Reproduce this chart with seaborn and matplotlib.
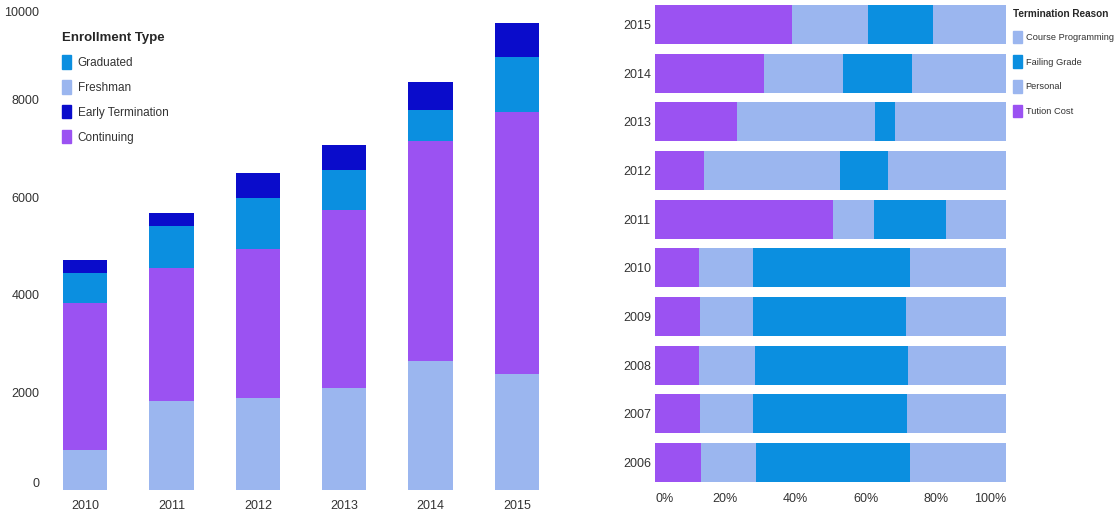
import matplotlib
matplotlib.use("Agg")
import matplotlib.pyplot as plt
import matplotlib.transforms as mtransforms
from matplotlib.patches import Patch
from matplotlib.ticker import FuncFormatter
import pandas as pd
import seaborn as sns

# Enrollment by year (stacked: Freshman, Continuing, Graduated, Early Termination)
years = ["2010", "2011", "2012", "2013", "2014", "2015"]
freshman = [820, 1820, 1880, 2080, 2650, 2370]
continuing = [3020, 2730, 3060, 3650, 4510, 5370]
graduated = [610, 860, 1040, 820, 630, 1140]
early_termination = [270, 270, 510, 510, 570, 690]

# Termination reasons by year, in percent (left to right)
term_years = ["2015", "2014", "2013", "2012", "2011",
              "2010", "2009", "2008", "2007", "2006"]
tution_cost = [39.1, 31.1, 23.5, 14.0, 50.7, 12.6, 12.8, 12.6, 12.8, 13.1]
personal = [21.7, 22.5, 39.3, 38.7, 11.8, 15.2, 15.2, 15.8, 15.0, 15.7]
failing_grade = [18.3, 19.5, 5.6, 13.6, 20.4, 44.8, 43.5, 43.7, 44.0, 43.8]
course_programming = [20.9, 26.9, 31.6, 33.7, 17.1, 27.4, 28.5, 27.9, 28.2, 27.4]

C_PURPLE = "#9b52f2"
C_LIGHT = "#9bb6ef"
C_BLUE = "#0b8fe0"
C_DARK = "#0a0ccb"
TXT = "#333333"

sns.set_theme(style="white")
plt.rcParams["font.family"] = ["Liberation Sans", "DejaVu Sans"]

W, H = 1116, 518
fig = plt.figure(figsize=(W / 100, H / 100), dpi=100)

# ---------- left: stacked enrollment columns ----------
axL = fig.add_axes([42 / W, 28 / H, 518 / W, 488 / H])
enr = pd.DataFrame({
    "year": years,
    "Freshman": freshman,
    "Continuing": continuing,
    "Graduated": graduated,
    "Early Termination": early_termination,
})
stack_order = ["Freshman", "Continuing", "Graduated", "Early Termination"]
stack_colors = {"Freshman": C_LIGHT, "Continuing": C_PURPLE,
                "Graduated": C_BLUE, "Early Termination": C_DARK}
cum = enr[stack_order].cumsum(axis=1)
# draw tallest cumulative layer first, smaller ones on top
for name in reversed(stack_order):
    sns.barplot(x=enr["year"], y=cum[name], color=stack_colors[name],
                width=0.51, linewidth=0, saturation=1, ax=axL, order=years)
axL.set_ylim(0, 10000)
axL.set_xlim(-0.5, 5.5)
axL.set_yticks([0, 2000, 4000, 6000, 8000, 10000])
axL.set_xlabel("")
axL.set_ylabel("")
axL.tick_params(axis="both", length=0, labelsize=9, colors=TXT)
axL.tick_params(axis="y", pad=2)
axL.tick_params(axis="x", pad=7)
for s in axL.spines.values():
    s.set_visible(False)
ylabs = axL.get_yticklabels()
ylabs[0].set_va("bottom")
ylabs[-1].set_va("top")
ylabs[-1].set_transform(ylabs[-1].get_transform()
                        + mtransforms.ScaledTranslation(0, -5 / 100, fig.dpi_scale_trans))

leg_l = fig.legend(
    handles=[Patch(color=stack_colors[n], label=n)
             for n in ["Graduated", "Freshman", "Early Termination", "Continuing"]],
    title="Enrollment Type", loc="upper left",
    bbox_to_anchor=(57 / W, 1 - 27 / H), frameon=False,
    fontsize=8.5, title_fontproperties={"weight": "bold", "size": 9.5},
    handlelength=0.75, handleheight=1.4, handletextpad=0.6,
    labelspacing=0.95, alignment="left", borderaxespad=0,
)
for t in leg_l.get_texts():
    t.set_color(TXT)

# ---------- right: 100% stacked termination reasons ----------
axR = fig.add_axes([655 / W, 31 / H, 351 / W, 487 / H])
term = pd.DataFrame({
    "year": term_years,
    "Tution Cost": tution_cost,
    "Personal": personal,
    "Failing Grade": failing_grade,
    "Course Programming": course_programming,
})
seg_order = ["Tution Cost", "Personal", "Failing Grade", "Course Programming"]
seg_colors = {"Tution Cost": C_PURPLE, "Personal": C_LIGHT,
              "Failing Grade": C_BLUE, "Course Programming": C_LIGHT}
tcum = term[seg_order].cumsum(axis=1)
tcum = tcum.div(tcum["Course Programming"], axis=0) * 100
for name in reversed(seg_order):
    sns.barplot(x=tcum[name], y=term["year"], orient="h", color=seg_colors[name],
                width=0.8, linewidth=0, saturation=1, ax=axR, order=term_years)
axR.set_xlim(0, 100)
axR.set_ylim(9.5, -0.5)
axR.set_xticks([0, 20, 40, 60, 80, 100])
axR.xaxis.set_major_formatter(FuncFormatter(lambda v, p: f"{v:.0f}%"))
axR.set_xlabel("")
axR.set_ylabel("")
axR.tick_params(axis="both", length=0, labelsize=9, colors=TXT)
axR.tick_params(axis="y", pad=3)
axR.tick_params(axis="x", pad=4)
for s in axR.spines.values():
    s.set_visible(False)
xlabs = axR.get_xticklabels()
xlabs[0].set_ha("left")
xlabs[-1].set_ha("right")

leg_r = fig.legend(
    handles=[Patch(color=seg_colors[n], label=n)
             for n in ["Course Programming", "Failing Grade", "Personal", "Tution Cost"]],
    title="Termination Reason", loc="upper left",
    bbox_to_anchor=(1009 / W, 1 - 5 / H), frameon=False,
    fontsize=6.7, title_fontproperties={"weight": "bold", "size": 7.2},
    handlelength=1.0, handleheight=1.7, handletextpad=0.4,
    labelspacing=1.3, alignment="left", borderaxespad=0,
)
for t in leg_r.get_texts():
    t.set_color(TXT)

fig.savefig("out.png", dpi=100)
